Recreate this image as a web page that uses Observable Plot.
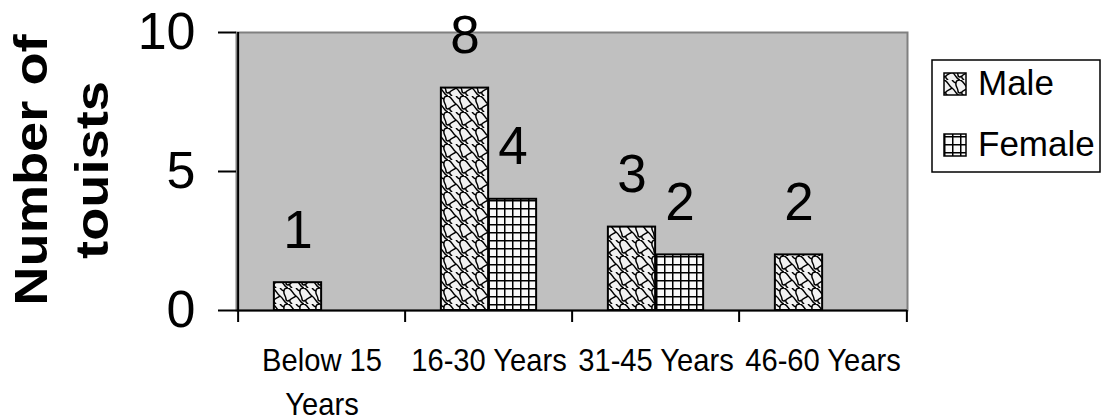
<!DOCTYPE html>
<html>
<head>
<meta charset="utf-8">
<script src="https://cdn.jsdelivr.net/npm/d3@7"></script>
<script src="https://cdn.jsdelivr.net/npm/@observablehq/plot@0.6"></script>
<style>
  html, body { margin: 0; padding: 0; background: #fff; }
  #chart { width: 1102px; height: 418px; }
</style>
</head>
<body>
<div id="chart"></div>
<script>
// Tourists by age group and sex
const ageGroups = ["Below 15 Years", "16-30 Years", "31-45 Years", "46-60 Years"];
const seriesNames = ["Male", "Female"];
const maleCounts = [1, 8, 3, 2];
const femaleCounts = [null, 4, 2, null];
const yTicks = [0, 5, 10];
const yTitleLines = ["Number of", "touists"];

const W = 1102, H = 418;
const M = {top: 32, right: 195, bottom: 108, left: 236};
const bandW = (W - M.left - M.right) / ageGroups.length;
const barW = 48;
const font = "'Liberation Sans', Arial, Helvetica, sans-serif";

const rows = [];
ageGroups.forEach((g, i) => {
  rows.push({group: g, sex: seriesNames[0], count: maleCounts[i]});
  rows.push({group: g, sex: seriesNames[1], count: femaleCounts[i]});
});
const present = rows.filter(d => d.count != null);
const maleRows = present.filter(d => d.sex === seriesNames[0]);
const femaleRows = present.filter(d => d.sex === seriesNames[1]);

// long category names wrap onto a second line
const wrapLabel = g => g.length > 12 ? g.replace(/ (\S+)$/, "\n$1") : g;
const patternId = name => "pat-" + name.toLowerCase();

const plot = Plot.plot({
  width: W,
  height: H,
  marginTop: M.top,
  marginRight: M.right,
  marginBottom: M.bottom,
  marginLeft: M.left,
  style: {fontFamily: font, color: "#000", background: "#fff", overflow: "visible"},
  x: {type: "band", domain: ageGroups, padding: 0, axis: null},
  y: {domain: [0, 10], axis: null},
  marks: [
    Plot.frame({fill: "#c0c0c0", stroke: "#808080", strokeWidth: 2}),
    Plot.barY(maleRows, {
      x: "group", y: "count",
      fill: `url(#${patternId(seriesNames[0])})`, stroke: "#000", strokeWidth: 2,
      insetLeft: bandW / 2 - barW, insetRight: bandW / 2
    }),
    Plot.barY(femaleRows, {
      x: "group", y: "count",
      fill: `url(#${patternId(seriesNames[1])})`, stroke: "#000", strokeWidth: 2,
      insetLeft: bandW / 2, insetRight: bandW / 2 - barW
    }),
    Plot.ruleY([0], {stroke: "#000", strokeWidth: 2}),
    Plot.ruleX([ageGroups[0]], {dx: -bandW / 2, stroke: "#000", strokeWidth: 2}),
    Plot.axisY({ticks: yTicks, tickSize: 18, tickPadding: 23, fontSize: 52, strokeWidth: 2, label: null}),
    // category boundary ticks
    Plot.axisX({ticks: ageGroups, tickSize: 12, dx: -bandW / 2, tickFormat: () => "", strokeWidth: 2, label: null}),
    Plot.axisX({ticks: [ageGroups[ageGroups.length - 1]], tickSize: 12, dx: bandW / 2, tickFormat: () => "", strokeWidth: 2, label: null}),
    // category names
    Plot.axisX({tickSize: 0, tickPadding: 29, fontSize: 31, lineHeight: 1.42, tickFormat: wrapLabel, label: null}),
    // value labels
    Plot.text(maleRows, {x: "group", y: "count", text: d => String(d.count), dx: -barW / 2, dy: -35, lineAnchor: "bottom", fontSize: 53}),
    Plot.text(femaleRows, {x: "group", y: "count", text: d => String(d.count), dx: barW / 2, dy: -35, lineAnchor: "bottom", fontSize: 53})
  ]
});

document.getElementById("chart").appendChild(plot);

const svg = d3.select(plot);

// slightly narrower category names, squeezed about their own anchor
const squash = s => s.replace(/\s+/g, "");
const categoryKeys = new Set(ageGroups.map(squash));
svg.selectAll("text").each(function () {
  if (!categoryKeys.has(squash(this.textContent))) return;
  const t = this.getAttribute("transform");
  if (t) {
    this.setAttribute("transform", t + " scale(0.94,1)");
  } else {
    const x = +this.getAttribute("x") || 0;
    this.setAttribute("transform", `translate(${x},0) scale(0.94,1) translate(${-x},0)`);
  }
});

// fill patterns for the two series
const defs = svg.insert("defs", ":first-child");
const pm = defs.append("pattern")
  .attr("id", patternId(seriesNames[0]))
  .attr("patternUnits", "userSpaceOnUse")
  .attr("width", 16).attr("height", 16);
pm.append("rect").attr("width", 16).attr("height", 16).attr("fill", "#f2f2f2");
pm.append("path")
  .attr("d", "M0,0 C4,1 4,5 8,8 C12,11 12,15 16,16 M8,8 C6,10 3,10 2,12 C1,14 3,15 4,16 M2,12 C1,12 0.5,13 0,13 M16,13 C15,13 14,12 14,11 C14,8 11,6 12,3 C12,1 14,0 16,0 M12,3 C10,3 9,1 8,0")
  .attr("fill", "none").attr("stroke", "#000").attr("stroke-width", 1.5);

const pf = defs.append("pattern")
  .attr("id", patternId(seriesNames[1]))
  .attr("patternUnits", "userSpaceOnUse")
  .attr("width", 8).attr("height", 8);
pf.append("rect").attr("width", 8).attr("height", 8).attr("fill", "#fafafa");
pf.append("path")
  .attr("d", "M0,0.75H8 M0.75,0V8")
  .attr("fill", "none").attr("stroke", "#000").attr("stroke-width", 1.5);

// y-axis title, two rotated lines
const title = svg.append("g")
  .attr("font-family", font)
  .attr("font-weight", "bold")
  .attr("font-size", 46)
  .attr("text-anchor", "middle")
  .attr("fill", "#000");
const titleBaselines = [47, 108];
yTitleLines.forEach((t, i) => {
  title.append("text")
    .attr("transform", `translate(${titleBaselines[i]},170) rotate(-90) scale(1.18,1)`)
    .text(t);
});

// legend
const lg = svg.append("g")
  .attr("font-family", font)
  .attr("text-anchor", "start")
  .attr("fill", "#000");
lg.append("rect")
  .attr("x", 932).attr("y", 60).attr("width", 168).attr("height", 112)
  .attr("fill", "#fff").attr("stroke", "#000").attr("stroke-width", 1.5);
seriesNames.forEach((name, i) => {
  const y0 = 73 + i * 61;
  lg.append("rect")
    .attr("x", 944).attr("y", y0).attr("width", 22).attr("height", 22)
    .attr("fill", `url(#${patternId(name)})`).attr("stroke", "#000").attr("stroke-width", 1.5);
  lg.append("text")
    .attr("x", 978).attr("y", y0 + 22)
    .attr("font-size", 35)
    .text(name);
});
</script>
</body>
</html>
